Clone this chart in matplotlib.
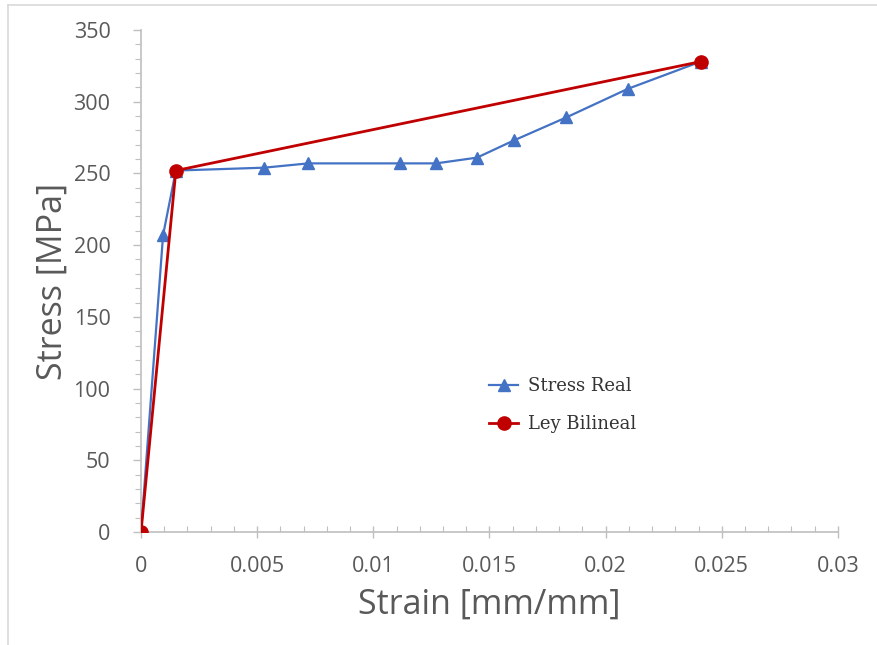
import matplotlib
matplotlib.use("Agg")
import matplotlib.pyplot as plt
from matplotlib.lines import Line2D
from matplotlib.ticker import MultipleLocator, FuncFormatter

# Measured stress-strain curve
strain_real = [0.0, 0.00095, 0.0015, 0.0053, 0.0072, 0.01115, 0.0127, 0.01446, 0.01605, 0.0183, 0.02096, 0.0241]
stress_real = [0.0, 207, 252, 254, 257, 257, 257, 261, 273, 289, 309, 328]

# Bilinear law fitted to it
strain_bilin = [0.0, 0.0015, 0.0241]
stress_bilin = [0.0, 252, 328]

x_ticks = [0, 0.005, 0.01, 0.015, 0.02, 0.025, 0.03]
y_ticks = [0, 50, 100, 150, 200, 250, 300, 350]

blue = "#4472C4"
red = "#C00000"
axis_grey = "#BFBFBF"
text_grey = "#595959"

fig = plt.figure(figsize=(8.78, 6.45), dpi=100)
ax = fig.add_axes([0.1606, 0.1752, 0.7938, 0.7783])

ax.plot(strain_real, stress_real, color=blue, lw=1.6, marker="^", ms=9,
        markerfacecolor=blue, markeredgecolor=blue, label="Stress Real", zorder=3)
ax.plot(strain_bilin, stress_bilin, color=red, lw=2.0, marker="o", ms=9.5,
        markerfacecolor=red, markeredgecolor=red, label="Ley Bilineal", zorder=4)

ax.set_xlim(0, 0.03)
ax.set_ylim(0, 350)
ax.set_xticks(x_ticks)
ax.set_yticks(y_ticks)
ax.xaxis.set_minor_locator(MultipleLocator(0.001))
ax.yaxis.set_minor_locator(MultipleLocator(10))
ax.xaxis.set_major_formatter(FuncFormatter(lambda v, p: "0" if v == 0 else f"{v:g}"))

for side in ("top", "right"):
    ax.spines[side].set_visible(False)
for side in ("left", "bottom"):
    ax.spines[side].set_color(axis_grey)
    ax.spines[side].set_linewidth(1.2)

ax.tick_params(axis="both", which="major", colors=axis_grey, labelcolor=text_grey,
               labelsize=15.5, length=6, width=1.0)
ax.tick_params(axis="x", which="major", direction="inout", length=8, pad=13)
ax.tick_params(axis="y", which="major", direction="out", length=6, pad=16)
ax.tick_params(axis="x", which="minor", direction="in", colors=axis_grey, length=4, width=0.8)
ax.tick_params(axis="y", which="minor", direction="out", colors=axis_grey, length=4, width=0.8)

for lab in ax.get_xticklabels() + ax.get_yticklabels():
    lab.set_family("Open Sans")

ax.set_xlabel("Strain [mm/mm]", fontsize=24.5, color=text_grey, family="Open Sans", labelpad=8)
ax.set_ylabel("Stress [MPa]", fontsize=24.5, color=text_grey, family="Open Sans", labelpad=3)

leg = ax.legend(loc="center left", bbox_to_anchor=(0.50, 0.253), frameon=False,
                borderpad=0, borderaxespad=0,
                prop={"family": "DejaVu Serif", "size": 13}, handlelength=1.6,
                labelspacing=1.1, handletextpad=0.55)
for t in leg.get_texts():
    t.set_color("#333333")

# thin frame edges of the chart area
fig.add_artist(Line2D([0.009, 0.009], [0.0, 0.992], transform=fig.transFigure,
                      color="#D9D9D9", lw=1.2))
fig.add_artist(Line2D([0.009, 1.0], [0.992, 0.992], transform=fig.transFigure,
                      color="#D9D9D9", lw=1.2))

fig.savefig("out.png", dpi=100, facecolor="white")
